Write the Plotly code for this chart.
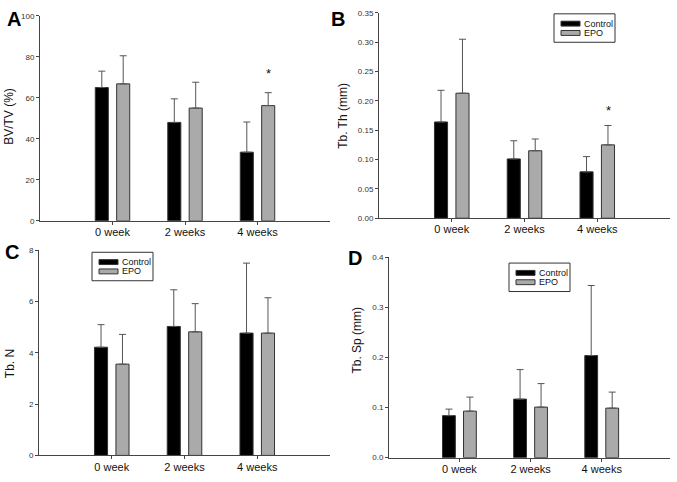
import plotly.graph_objects as go

W, H = 677, 482


def px_x(X):
    return X / W


def px_y(Y):
    return 1 - Y / H


categories = ["0 week", "2 weeks", "4 weeks"]
groups = ["Control", "EPO"]

# Panel A: BV/TV (%)
a_control = [65.0, 48.0, 33.5]
a_control_sd = [8.0, 11.5, 14.7]
a_epo = [66.8, 55.0, 56.2]
a_epo_sd = [13.7, 12.6, 6.3]

# Panel B: Tb. Th (mm)
b_control = [0.164, 0.101, 0.079]
b_control_sd = [0.054, 0.031, 0.026]
b_epo = [0.213, 0.115, 0.125]
b_epo_sd = [0.092, 0.020, 0.033]

# Panel C: Tb. N
c_control = [4.22, 5.03, 4.77]
c_control_sd = [0.88, 1.43, 2.73]
c_epo = [3.56, 4.82, 4.77]
c_epo_sd = [1.16, 1.10, 1.38]

# Panel D: Tb. Sp (mm)
d_control = [0.084, 0.117, 0.204]
d_control_sd = [0.013, 0.059, 0.140]
d_epo = [0.093, 0.101, 0.099]
d_epo_sd = [0.028, 0.047, 0.032]

# significance markers: (category, y value)
stars_a = [("4 weeks", 71.5)]
stars_b = [("4 weeks", 0.182)]

colors = {"Control": "#000000", "EPO": "#aaaaaa"}

panels = [
    dict(name="A", ctrl=a_control, ctrl_sd=a_control_sd, epo=a_epo, epo_sd=a_epo_sd,
         title="BV/TV (%)", yr=[0, 100], dt=20, fmt="d", px=(40, 330, 12, 221),
         xr=[-1, 3], legend=None, label=(14, 15), tpos=(9, 115), stars=stars_a),
    dict(name="B", ctrl=b_control, ctrl_sd=b_control_sd, epo=b_epo, epo_sd=b_epo_sd,
         title="Tb. Th (mm)", yr=[0, 0.35], dt=0.05, fmt=".2f", px=(379, 670, 9, 218.3),
         xr=[-1, 3], legend=(554, 10), label=(338, 15), tpos=(343, 114), stars=stars_b),
    dict(name="C", ctrl=c_control, ctrl_sd=c_control_sd, epo=c_epo, epo_sd=c_epo_sd,
         title="Tb. N", yr=[0, 8], dt=2, fmt="d", px=(39, 330, 251, 460),
         xr=[-1, 3], legend=(92, 253), label=(12, 253), tpos=(10, 367), stars=[]),
    dict(name="D", ctrl=d_control, ctrl_sd=d_control_sd, epo=d_epo, epo_sd=d_epo_sd,
         title="Tb. Sp (mm)", yr=[0, 0.4], dt=0.1, fmt=".1f", px=(389, 670, 258.3, 462.3),
         xr=[-0.99, 2.96], legend=(509, 264), label=(355, 259), tpos=(357, 343), stars=[]),
]

FONT = "Liberation Sans, Arial, sans-serif"
AXC = "#444444"
fig = go.Figure()
layout = dict(
    width=W, height=H, margin=dict(l=0, r=0, t=0, b=0),
    paper_bgcolor="white", plot_bgcolor="white",
    barmode="group", bargap=0.41, bargroupgap=0.39,
    font=dict(family=FONT, color="#222222"),
    showlegend=False,
    annotations=[], shapes=[],
)

for i, p in enumerate(panels, start=1):
    xa = "x" if i == 1 else f"x{i}"
    ya = "y" if i == 1 else f"y{i}"
    for name, vals, sds in [("Control", p["ctrl"], p["ctrl_sd"]),
                            ("EPO", p["epo"], p["epo_sd"])]:
        fig.add_trace(go.Bar(
            x=categories, y=vals, name=name, xaxis=xa, yaxis=ya,
            marker=dict(color=colors[name], line=dict(color="#333333", width=1)),
            error_y=dict(type="data", array=sds, arrayminus=[0] * len(sds), symmetric=False,
                         color="#555555", thickness=1, width=3.5),
        ))
    x0, x1, y0, y1 = p["px"]
    xkey = "xaxis" if i == 1 else f"xaxis{i}"
    ykey = "yaxis" if i == 1 else f"yaxis{i}"
    layout[xkey] = dict(
        domain=[px_x(x0), px_x(x1)], range=p["xr"], anchor=ya,
        type="category", categoryorder="array", categoryarray=categories,
        showline=True, linecolor=AXC, linewidth=1, showgrid=False, zeroline=False,
        ticks="outside", ticklen=3, tickcolor=AXC, ticklabelstandoff=-2,
        tickfont=dict(family=FONT, size=11, color="#111111"),
        fixedrange=True,
    )
    layout[ykey] = dict(
        domain=[px_y(y1), px_y(y0)], range=p["yr"], anchor=xa,
        dtick=p["dt"], tick0=0, tickformat=p["fmt"],
        showline=True, linecolor=AXC, linewidth=1, showgrid=False, zeroline=False,
        ticks="outside", ticklen=3, tickcolor=AXC,
        tickfont=dict(family=FONT, size=8, color="#333333"),
        fixedrange=True,
    )
    lx, ly = p["label"]
    layout["annotations"].append(dict(
        text=f"<b>{p['name']}</b>", x=px_x(lx), y=px_y(ly), xref="paper", yref="paper",
        showarrow=False, xanchor="center", yanchor="middle",
        font=dict(family=FONT, size=20, color="#000000"),
    ))
    tx, ty = p["tpos"]
    layout["annotations"].append(dict(
        text=p["title"], x=px_x(tx), y=px_y(ty), xref="paper", yref="paper",
        showarrow=False, xanchor="center", yanchor="middle", textangle=-90,
        font=dict(family=FONT, size=12, color="#111111"),
    ))
    for cat, yv in p["stars"]:
        layout["annotations"].append(dict(
            text="*", x=cat, y=yv, xref=xa, yref=ya, xshift=11,
            showarrow=False, xanchor="center", yanchor="middle", yshift=1,
            font=dict(family=FONT, size=13, color="#111111"),
        ))
    # boxed legend (drawn as in the reference: wide thin swatches)
    if p["legend"] is not None:
        bx, by = p["legend"]
        bw, bh = 61, 29
        layout["shapes"].append(dict(
            type="rect", xref="paper", yref="paper",
            x0=px_x(bx), x1=px_x(bx + bw), y0=px_y(by + bh), y1=px_y(by),
            line=dict(color="#333333", width=1), fillcolor="white",
        ))
        for k, g in enumerate(groups):
            cy = by + 10 + 9.5 * k
            layout["shapes"].append(dict(
                type="rect", xref="paper", yref="paper",
                x0=px_x(bx + 7), x1=px_x(bx + 26), y0=px_y(cy + 2.5), y1=px_y(cy - 2.5),
                line=dict(color="#333333", width=1), fillcolor=colors[g],
            ))
            layout["annotations"].append(dict(
                text=g, x=px_x(bx + 28), y=px_y(cy), xref="paper", yref="paper",
                showarrow=False, xanchor="left", yanchor="middle",
                font=dict(family=FONT, size=9, color="#111111"),
            ))

fig.update_layout(**layout)
fig.write_html(
    "out.html",
    config={"displayModeBar": False, "staticPlot": True},
    post_script="document.body.style.margin='0px';document.body.style.overflow='hidden';",
)
